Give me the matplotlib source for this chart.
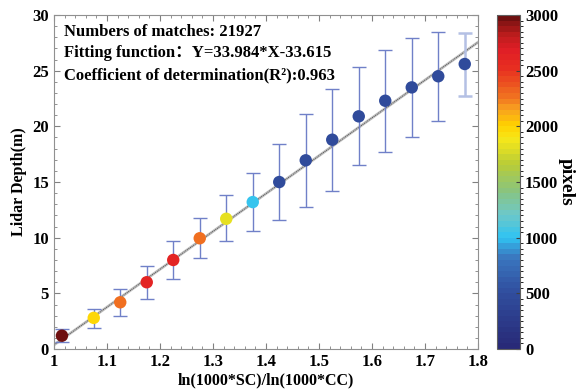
import numpy as np
import matplotlib
matplotlib.use('Agg')
import matplotlib.pyplot as plt
from matplotlib.colors import LinearSegmentedColormap, BoundaryNorm
from matplotlib.ticker import MultipleLocator

plt.rcParams['font.family'] = ['Liberation Serif', 'Noto Sans CJK SC']
plt.rcParams['font.weight'] = 'bold'

# data
ratio = [1.015, 1.075, 1.125, 1.175, 1.225, 1.275, 1.325, 1.375,
         1.425, 1.475, 1.525, 1.575, 1.625, 1.675, 1.725, 1.775]
depth = [1.2, 2.8, 4.2, 6.0, 8.0, 9.95, 11.7, 13.2,
         15.0, 16.95, 18.8, 20.9, 22.3, 23.5, 24.5, 25.6]
err_low = [0.6, 1.9, 3.0, 4.5, 6.3, 8.2, 9.7, 10.6,
           11.6, 12.8, 14.2, 16.5, 17.7, 19.0, 20.5, 22.7]
err_high = [1.8, 3.6, 5.4, 7.5, 9.7, 11.8, 13.8, 15.8,
            18.4, 21.1, 23.4, 25.3, 26.9, 27.9, 28.5, 28.4]
pixels = [3000, 1950, 2250, 2600, 2600, 2250, 1800, 1000,
          450, 450, 450, 450, 450, 450, 450, 450]
slope, intercept = 33.984, -33.615

cmap_colors = [(0.0, '#282a78'), (0.17, '#3150a0'), (0.27, '#3a78c0'),
               (0.33, '#30c4f2'), (0.40, '#6ec8c8'), (0.47, '#88c480'),
               (0.55, '#b8cc38'), (0.63, '#f8e818'), (0.67, '#ffd000'),
               (0.72, '#f8a020'), (0.76, '#f07020'), (0.84, '#e83020'),
               (0.90, '#e01e26'), (0.95, '#b81c1c'), (1.0, '#6e1010')]
cmap = LinearSegmentedColormap.from_list('pix', cmap_colors)
norm = BoundaryNorm(np.linspace(0, 3000, 61), cmap.N)

fig = plt.figure(figsize=(5.78, 3.90), dpi=100)
ax = fig.add_axes([0.0934, 0.105, 0.7336, 0.8565])
cax = fig.add_axes([0.860, 0.105, 0.040, 0.8565])

x = np.array(ratio)
y = np.array(depth)
yerr = [y - np.array(err_low), np.array(err_high) - y]

# fit line
xl = np.array([1.0, 1.8])
ax.plot(xl, slope * xl + intercept, color='#c0c0c0', lw=2.0, zorder=1)
ax.plot(xl, slope * xl + intercept, color='#505050', lw=0.7,
        linestyle=(0, (1, 1)), zorder=1)

ax.errorbar(x[:-1], y[:-1], yerr=[yerr[0][:-1], yerr[1][:-1]], fmt='none',
            ecolor='#7080c8', elinewidth=1.0, capsize=5, capthick=1.0, zorder=2)
ax.errorbar(x[-1:], y[-1:], yerr=[yerr[0][-1:], yerr[1][-1:]], fmt='none',
            ecolor='#b4c0e4', elinewidth=1.8, capsize=5, capthick=1.8, zorder=2)
ax.scatter(x, y, c=pixels, cmap=cmap, norm=norm, s=80, edgecolors='none', zorder=3)

ax.set_xlim(1.0, 1.8)
ax.set_ylim(0, 30)
ax.xaxis.set_major_locator(MultipleLocator(0.1))
ax.xaxis.set_minor_locator(MultipleLocator(0.02))
ax.yaxis.set_major_locator(MultipleLocator(5))
ax.yaxis.set_minor_locator(MultipleLocator(1))
ax.set_xticks(np.arange(1.0, 1.81, 0.1))
ax.set_xticklabels(['1', '1.1', '1.2', '1.3', '1.4', '1.5', '1.6', '1.7', '1.8'])
ax.tick_params(which='both', direction='in', top=True, right=True,
               color='#808080', labelsize=12)
ax.tick_params(which='major', length=4)
ax.tick_params(which='minor', length=2.5)
for s in ax.spines.values():
    s.set_color('#909090')
ax.set_xlabel('ln(1000*SC)/ln(1000*CC)', fontsize=11.5, fontweight='bold', labelpad=2)
ax.set_ylabel('Lidar Depth(m)', fontsize=11.5, fontweight='bold', labelpad=4)

ax.text(0.024, 0.95, 'Numbers of matches: 21927', transform=ax.transAxes,
        fontsize=12, fontweight='bold', va='center')
ax.text(0.024, 0.885, 'Fitting function：Y=33.984*X-33.615', transform=ax.transAxes,
        fontsize=12, fontweight='bold', va='center')
ax.text(0.024, 0.82, 'Coefficient of determination(R²):0.963', transform=ax.transAxes,
        fontsize=12, fontweight='bold', va='center')

sm = plt.cm.ScalarMappable(cmap=cmap, norm=norm)
cb = fig.colorbar(sm, cax=cax, ticks=[0, 500, 1000, 1500, 2000, 2500, 3000])
cb.outline.set_color('#606060')
cb.outline.set_linewidth(0.8)
cax.tick_params(direction='in', length=3, color='#404040', labelsize=12)
cb.set_label('pixels', rotation=270, fontsize=14, fontweight='bold', labelpad=12)

fig.savefig('out.png', dpi=100)
